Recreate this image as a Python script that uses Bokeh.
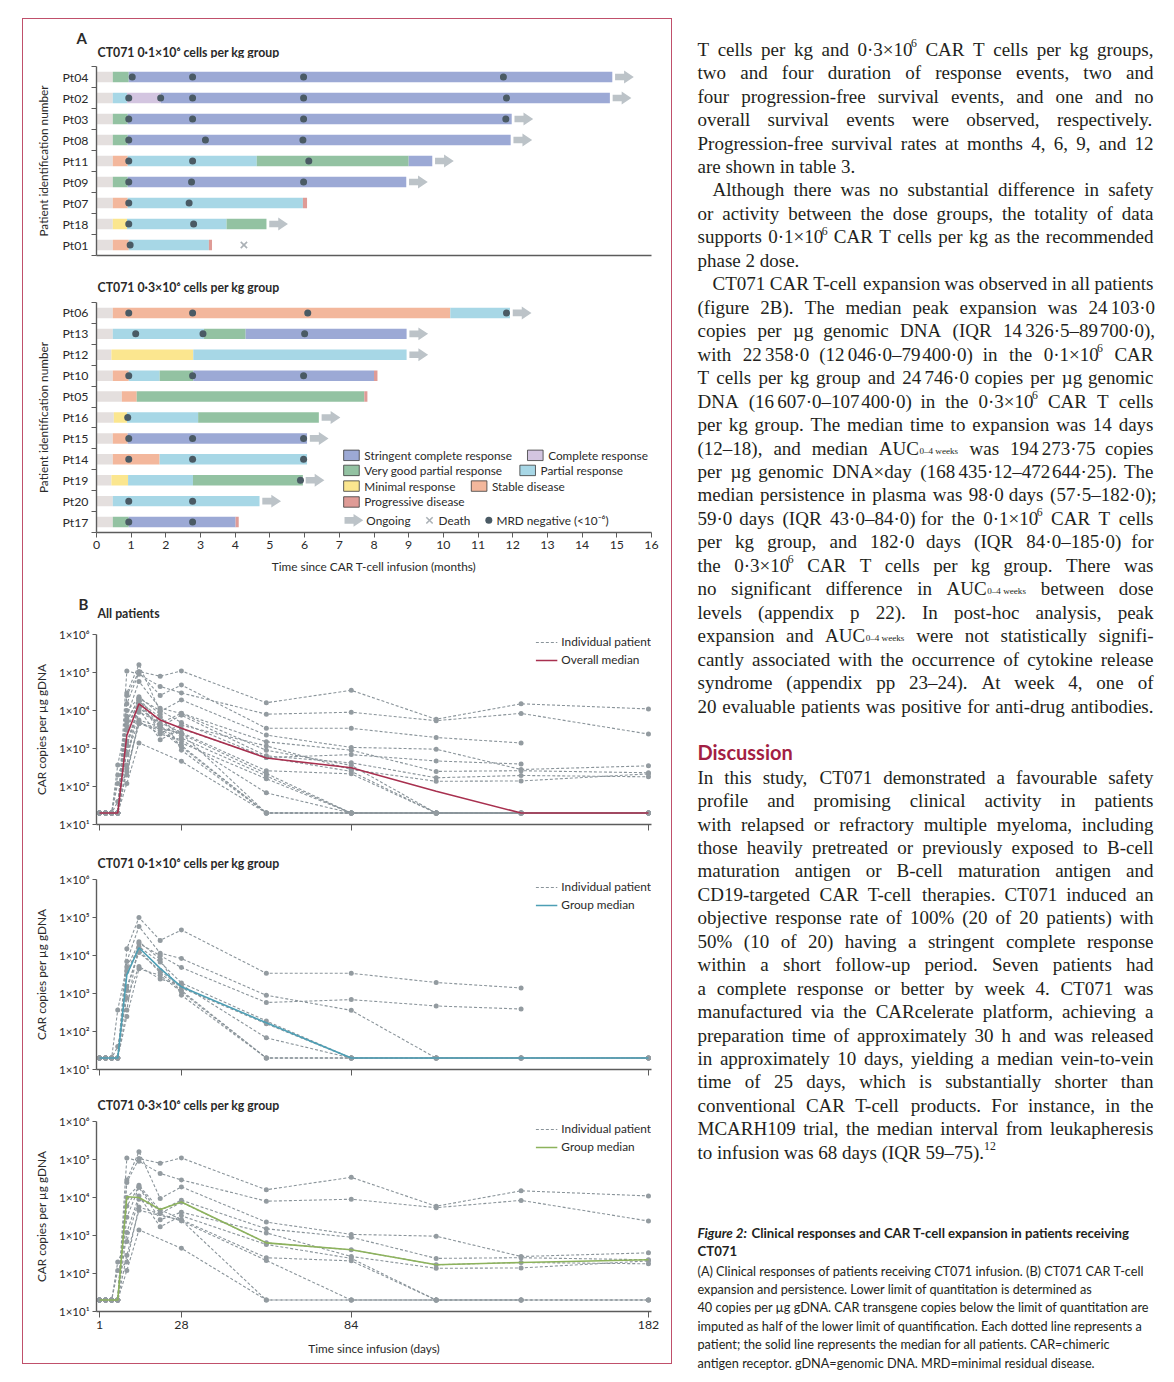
import re
from bokeh.plotting import figure
from bokeh.models import Range1d, FixedTicker, Label, Legend, LegendItem, Spacer
from bokeh.layouts import column, row
from bokeh.embed import file_html
from bokeh.resources import INLINE
from bokeh.core.properties import value

# ============================ DATA ============================
month_ticks = list(range(0, 17))

resp_codes = ["sCR", "CR", "VGPR", "PR", "MR", "SD", "PD"]
resp_labels = {"sCR": "Stringent complete response", "CR": "Complete response",
               "VGPR": "Very good partial response", "PR": "Partial response",
               "MR": "Minimal response", "SD": "Stable disease", "PD": "Progressive disease"}

# --- panel A, 0.1 x 10^6 group: (response, end month) segments ---
g1_patients = ["Pt04", "Pt02", "Pt03", "Pt08", "Pt11", "Pt09", "Pt07", "Pt18", "Pt01"]
g1_segments = [
    [("pre", 0.47), ("VGPR", 0.93), ("sCR", 14.87)],
    [("pre", 0.47), ("PR", 0.88), ("CR", 1.85), ("sCR", 14.80)],
    [("pre", 0.47), ("VGPR", 0.90), ("sCR", 11.97)],
    [("pre", 0.47), ("VGPR", 0.90), ("sCR", 11.94)],
    [("pre", 0.47), ("SD", 0.90), ("PR", 4.62), ("VGPR", 9.00), ("sCR", 9.68)],
    [("pre", 0.47), ("VGPR", 0.90), ("sCR", 8.93)],
    [("pre", 0.47), ("SD", 0.90), ("PR", 5.95), ("PD", 6.07)],
    [("pre", 0.47), ("MR", 0.88), ("PR", 3.75), ("VGPR", 4.90)],
    [("pre", 0.47), ("SD", 0.93), ("PR", 3.24), ("PD", 3.33)],
]
g1_ongoing = [True, True, True, True, True, True, False, True, False]
g1_mrd = [[1.03, 2.77, 5.97, 11.73], [0.93, 1.85, 2.77, 5.97, 11.82], [0.93, 2.77, 5.97, 11.80],
          [0.93, 3.14, 5.95], [0.93, 2.77, 6.12], [0.93, 2.74, 5.97], [0.93, 2.67],
          [0.93, 2.80], [0.97]]
g1_death = [None, None, None, None, None, None, None, None, 4.25]

# --- panel A, 0.3 x 10^6 group ---
g2_patients = ["Pt06", "Pt13", "Pt12", "Pt10", "Pt05", "Pt16", "Pt15", "Pt14", "Pt19", "Pt20", "Pt17"]
g2_segments = [
    [("pre", 0.47), ("SD", 10.20), ("PR", 11.92)],
    [("pre", 0.47), ("PR", 3.10), ("VGPR", 4.30), ("sCR", 8.94)],
    [("pre", 0.43), ("MR", 2.79), ("PR", 8.94)],
    [("pre", 0.47), ("SD", 0.93), ("PR", 1.82), ("VGPR", 2.79), ("sCR", 8.00), ("PD", 8.10)],
    [("pre", 0.73), ("SD", 1.16), ("VGPR", 7.72), ("PD", 7.81)],
    [("pre", 0.50), ("MR", 0.88), ("PR", 2.93), ("VGPR", 6.41)],
    [("pre", 0.47), ("SD", 0.90), ("sCR", 6.07)],
    [("pre", 0.47), ("SD", 1.82), ("PR", 6.07)],
    [("pre", 0.43), ("MR", 0.91), ("PR", 2.78), ("VGPR", 5.95)],
    [("pre", 0.47), ("PR", 4.70)],
    [("pre", 0.47), ("VGPR", 0.93), ("sCR", 4.01), ("PD", 4.10)],
]
g2_ongoing = [True, True, True, False, False, True, True, False, True, True, False]
g2_mrd = [[0.93, 2.77, 6.09, 11.82], [1.13, 3.07, 6.00], [], [0.93, 2.77, 5.97], [], [0.90],
          [0.93, 2.77, 5.97], [0.93, 2.77, 5.97], [5.88], [0.93, 2.77], [0.93, 2.77]]
g2_death = [None] * 11

# --- panel B: CAR copies per ug gDNA ---
pk_days = [1, 3, 5, 7, 10, 14, 21, 28, 56, 84, 112, 140, 182]
N = None
pk_g1 = [
    [20, 20, 20, 20, 1.5e4, 1.0e5, 2.5e4, 4.7e4, 3.4e3, 3.4e3, 1.95e3, 1.4e3, N],
    [20, 20, 20, 20, 7.0e3, 5.8e4, 1.15e4, 8.3e3, 9.0e2, 3.6e2, 20, 20, 20],
    [20, 20, 20, 3.7e2, 5.0e3, 2.1e4, 1.0e4, 4.8e3, 5.8e2, 6.9e2, 4.7e2, 3.9e2, N],
    [20, 20, 20, 20, 3.8e3, 1.7e4, 6.7e3, 1.9e3, 1.9e2, 20, 20, 20, 20],
    [20, 20, 20, 20, 1.5e3, 1.2e4, 4.0e3, 1.4e3, 1.6e2, 20, 20, 20, 20],
    [20, 20, 20, 40, 7.5e2, 5.1e3, 2.4e3, 1.7e3, 68, 20, 20, 20, 20],
    [20, 20, 20, 20, 2.5e2, 4.5e3, 3.0e3, 1.1e3, 20, 20, 20, 20, 20],
    [20, 20, 20, 20, 3.7e2, 2.3e4, 8.0e3, 9.0e2, 20, 20, 20, 20, N],
    [20, 20, 20, 20, 1.2e3, 1.4e4, 3.5e3, 1.2e3, 20, 20, N, N, N],
]
pk_g2 = [
    [20, 20, 20, 20, 2.5e4, 1.06e5, 8.0e4, 1.1e5, 1.6e4, 3.4e4, 5.9e3, 1.5e4, 1.1e4],
    [20, 20, 20, 20, 1.1e5, 9.0e4, 4.3e4, 2.9e4, 8.0e3, 9.0e3, 5.4e3, 8.4e3, 2.4e3],
    [20, 20, 20, 20, 2.9e4, 1.6e5, 9.4e3, 1.9e4, 2.25e3, 1.07e3, 9.6e2, 2.8e2, 3.5e2],
    [20, 20, 20, 20, 1.0e4, 2.1e4, 4.6e3, 8.5e3, 1.5e3, 9.0e2, 2.5e2, 2.6e2, 2.3e2],
    [20, 20, 20, 20, 6.0e3, 1.9e4, 3.8e3, 7.5e3, 6.4e2, 4.2e2, 1.7e2, 1.95e2, 1.8e2],
    [20, 20, 20, 20, 3.0e3, 1.85e4, 2.6e3, 4.1e3, 1.17e3, 2.8e2, 1.37e2, 1.4e2, 2.15e2],
    [20, 20, 20, 20, 1.2e3, 1.1e4, 1.7e3, 3.3e3, 5.8e2, 2.5e2, 20, 20, 20],
    [20, 20, 20, 2.0e2, 7.0e2, 9.0e3, N, 2.6e3, 2.6e2, 2.15e2, 20, N, N],
    [20, 20, 20, 1.2e2, 2.0e2, 5.6e3, N, 2.4e3, 2.2e2, 20, 20, 20, N],
    [20, 20, 20, 20, 1.2e2, 1.4e3, N, 4.6e2, 20, 20, 20, 20, 20],
    [20, 20, 20, 20, 3.0e2, 4.6e3, N, 2.5e3, 20, 20, 20, 20, 20],
]
median_all = [20, 20, 20, 20, 2.2e3, 1.5e4, 5.6e3, 3.4e3, 5.6e2, 3.1e2, 75, 20, 20]
median_g1 = [20, 20, 20, 20, 3.1e3, 1.6e4, 4.6e3, 1.5e3, 1.7e2, 20, 20, 20, 20]
median_g2 = [20, 20, 20, 20, 1.05e4, 1.0e4, 4.8e3, 7.6e3, 6.4e2, 4.2e2, 1.7e2, 1.95e2, 2.3e2]

day_ticks = [1, 28, 84, 182]
log_ticks = [10, 100, 1000, 10000, 100000, 1000000]
log_tick_labels = ["1×10¹", "1×10²", "1×10³", "1×10⁴", "1×10⁵", "1×10⁶"]

# ============================ STYLE ============================
FONT = "Lato"
TXT = "#2a2a2a"
AXC = "#5c5c5c"
FIG_W = 648
TITLE_FS = "12.3px"
LEG_FS = "11.8px"
RESP_COLORS = {"pre": "#e4dfde", "sCR": "#9ca9d5", "CR": "#d3c5e0", "VGPR": "#93c2a2",
               "PR": "#a7d7e6", "MR": "#fbe68f", "SD": "#f3b79c", "PD": "#df9b96"}
ARROW_C = "#bcc3c8"
MRD_C = "#4a5a64"
DEATH_C = "#abb1b6"
IND_C = "#8a949a"
PT_C = "#939ba0"


def no_align(f):
    if "frame_align" in f.properties():
        f.frame_align = False


def overrides(keys, labels):
    d = {}
    for k, l in zip(keys, labels):
        d[k] = l
        d[str(k)] = l
    return d


def base_style(p):
    p.grid.visible = False
    p.outline_line_color = None
    for ax in p.axis:
        ax.axis_line_color = AXC
        ax.axis_line_width = 1.4
        ax.major_tick_line_color = AXC
        ax.minor_tick_line_color = None
        ax.major_label_text_font = FONT
        ax.major_label_text_color = TXT
        ax.axis_label_text_font = FONT
        ax.axis_label_text_font_style = "normal"
        ax.axis_label_text_color = TXT
        ax.axis_label_text_font_size = "11.8px"


def header(h, items):
    """A thin strip holding the panel letter and panel title (canvas pixel coords)."""
    f = figure(width=FIG_W, height=h, x_range=Range1d(0, FIG_W), y_range=Range1d(h, 0),
               output_backend="svg", toolbar_location=None, min_border=0,
               min_border_left=0, min_border_right=0, min_border_top=0, min_border_bottom=0,
               x_axis_type=None, y_axis_type=None)
    no_align(f)
    f.grid.visible = False
    f.outline_line_color = None
    for x, y, t, s in items:
        f.text([x], [y], [t], text_font=value(FONT), text_font_style="bold",
               text_font_size=value(s), text_baseline="middle", text_align="left",
               text_color=TXT)
    return f


def add_label(p, x, y, text, size=LEG_FS, bold=False, color=TXT):
    p.add_layout(Label(x=x, y=y, text=text, text_font=FONT, text_font_size=size,
                       text_font_style="bold" if bold else "normal", text_color=color,
                       text_baseline="middle", text_align="left"))


def arrow_poly(e, y):
    x0, x1, x2 = e + 0.08, e + 0.34, e + 0.62
    return ([x0, x1, x1, x2, x1, x1, x0],
            [y - 0.16, y - 0.16, y - 0.31, y, y + 0.31, y + 0.16, y + 0.16])


def swimmer(patients, segments, ongoing, mrd, death, height, top, bottom, x_labels,
            with_legend):
    n = len(patients)
    p = figure(width=FIG_W, height=height, x_range=Range1d(0, 16),
               y_range=Range1d(n - 0.5, -0.5), output_backend="svg", toolbar_location=None,
               min_border_left=73, min_border_right=20, min_border_top=top,
               min_border_bottom=bottom)
    left, right, ys, cols = [], [], [], []
    for i, segs in enumerate(segments):
        start = 0.0
        for code, end in segs:
            left.append(start)
            right.append(end)
            ys.append(i)
            cols.append(RESP_COLORS[code])
            start = end
    p.hbar(y=ys, left=left, right=right, height=0.5, fill_color=cols, line_color=None)

    axs, ays = [], []
    for i, segs in enumerate(segments):
        if ongoing[i]:
            ax_, ay_ = arrow_poly(segs[-1][1], i)
            axs.append(ax_)
            ays.append(ay_)
    p.patches(axs, ays, fill_color=ARROW_C, line_color=None)

    mx = [x for i, row_ in enumerate(mrd) for x in row_]
    my = [i for i, row_ in enumerate(mrd) for _ in row_]
    p.scatter(mx, my, size=7, fill_color=MRD_C, line_color=None)

    dx = [d for d in death if d is not None]
    dy = [i for i, d in enumerate(death) if d is not None]
    if dx:
        p.scatter(dx, dy, marker="x", size=9, line_color=DEATH_C, line_width=1.6)

    base_style(p)
    yax = p.yaxis[0]
    yax.ticker = FixedTicker(ticks=list(range(n)), minor_ticks=[i - 0.5 for i in range(n + 1)])
    yax.major_label_overrides = overrides(list(range(n)), patients)
    yax.major_tick_out = 0
    yax.major_tick_in = 0
    yax.minor_tick_line_color = AXC
    yax.minor_tick_out = 5
    yax.minor_tick_in = 0
    yax.major_label_text_font_size = "12.3px"
    yax.major_label_standoff = 3
    yax.axis_label = "Patient identification number"
    yax.axis_label_standoff = 8

    xax = p.xaxis[0]
    if x_labels:
        xax.ticker = FixedTicker(ticks=month_ticks)
        xax.major_tick_out = 5
        xax.major_tick_in = 0
        xax.major_label_text_font_size = "12.3px"
        xax.major_label_standoff = 3
        xax.axis_label = "Time since CAR T-cell infusion (months)"
        xax.axis_label_standoff = 7
    else:
        xax.ticker = FixedTicker(ticks=[])
        xax.major_label_text_font_size = "0px"
        xax.major_tick_out = 0

    if with_legend:
        pos = {"sCR": (7.12, 6.81), "CR": (12.42, 6.81), "VGPR": (7.12, 7.53),
               "PR": (12.20, 7.53), "MR": (7.12, 8.28), "SD": (10.80, 8.28),
               "PD": (7.12, 9.04)}
        bx = [pos[c][0] + 0.23 for c in resp_codes]
        by = [pos[c][1] for c in resp_codes]
        p.rect(bx, by, width=0.45, height=0.5, fill_color=[RESP_COLORS[c] for c in resp_codes],
               line_color="#3a3a3a", line_width=0.8)
        for c in resp_codes:
            add_label(p, pos[c][0] + 0.6, pos[c][1], resp_labels[c])
        ly = 9.92
        lx, lyy = arrow_poly(7.07, ly)
        p.patch(lx, lyy, fill_color=ARROW_C, line_color=None)
        add_label(p, 7.78, ly, "Ongoing")
        p.scatter([9.6], [ly], marker="x", size=9, line_color=DEATH_C, line_width=1.6)
        add_label(p, 9.86, ly, "Death")
        p.scatter([11.31], [ly], size=7, fill_color=MRD_C, line_color=None)
        add_label(p, 11.53, ly, "MRD negative (<10⁻⁶)")
    return p


def pk_plot(height, top, bottom, series, med, med_color, med_label, x_labels):
    p = figure(width=FIG_W, height=height, x_range=Range1d(0, 183),
               y_range=Range1d(10, 1e6), y_axis_type="log", output_backend="svg",
               toolbar_location=None, min_border_left=73, min_border_right=20,
               min_border_top=top, min_border_bottom=bottom)
    first = None
    for vals in series:
        xs = [d for d, v in zip(pk_days, vals) if v is not None]
        ys = [v for v in vals if v is not None]
        r = p.line(xs, ys, line_color=IND_C, line_dash="3 2", line_width=1.1)
        if first is None:
            first = r
    for vals in series:
        xs = [d for d, v in zip(pk_days, vals) if v is not None]
        ys = [v for v in vals if v is not None]
        p.scatter(xs, ys, size=5, fill_color=PT_C, line_color=None)
    rm = p.line(pk_days, med, line_color=med_color, line_width=1.6)

    leg = Legend(items=[LegendItem(label="Individual patient", renderers=[first]),
                        LegendItem(label=med_label, renderers=[rm])],
                 location="top_right", border_line_color=None, background_fill_alpha=0,
                 label_text_font=FONT, label_text_font_size=LEG_FS, label_text_color=TXT,
                 glyph_width=22, glyph_height=12, label_height=12, spacing=3, padding=0,
                 margin=0, label_standoff=4)
    p.add_layout(leg)

    base_style(p)
    yax = p.yaxis[0]
    yax.ticker = FixedTicker(ticks=log_ticks)
    yax.major_label_overrides = overrides(log_ticks, log_tick_labels)
    yax.major_tick_out = 4
    yax.major_tick_in = 0
    yax.major_label_text_font_size = "11.5px"
    yax.major_label_standoff = 3
    yax.axis_label = "CAR copies per µg gDNA"
    yax.axis_label_standoff = 7

    xax = p.xaxis[0]
    xax.ticker = FixedTicker(ticks=day_ticks)
    xax.major_tick_out = 6
    xax.major_tick_in = 0
    if x_labels:
        xax.major_label_text_font_size = "12.3px"
        xax.major_label_standoff = 3
        xax.axis_label = "Time since infusion (days)"
        xax.axis_label_standoff = 9
    else:
        xax.major_label_text_font_size = "0px"
        xax.major_label_standoff = 0
    return p


HA1 = header(39, [(53, 18, "A", "15px"), (74, 33, "CT071 0·1×10⁶ cells per kg group", TITLE_FS)])
A1 = swimmer(g1_patients, g1_segments, g1_ongoing, g1_mrd, g1_death, 206, 8, 9, False, False)
HA2 = header(30, [(74, 23, "CT071 0·3×10⁶ cells per kg group", TITLE_FS)])
A2 = swimmer(g2_patients, g2_segments, g2_ongoing, g2_mrd, g2_death, 296, 8, 58, True, True)
HB1 = header(36, [(55, 13, "B", "15px"), (74, 23, "All patients", TITLE_FS)])
B1 = pk_plot(212, 8, 14, pk_g1 + pk_g2, median_all, "#a8304f", "Overall median", False)
HB2 = header(33, [(74, 25, "CT071 0·1×10⁶ cells per kg group", TITLE_FS)])
B2 = pk_plot(210, 8, 12, pk_g1, median_g1, "#4d9fb5", "Group median", False)
HB3 = header(32, [(74, 24, "CT071 0·3×10⁶ cells per kg group", TITLE_FS)])
B3 = pk_plot(250, 8, 52, pk_g2, median_g2, "#8db35c", "Group median", True)

# ============================ ARTICLE TEXT ============================
body_lines = [
    ("T cells per kg and 0·3×10^{6} CAR T cells per kg groups,", True, 0),
    ("two and four duration of response events, two and", True, 0),
    ("four progression-free survival events, and one and no", True, 0),
    ("overall survival events were observed, respectively.", True, 0),
    ("Progression-free survival rates at months 4, 6, 9, and 12", True, 0),
    ("are shown in table 3.", False, 0),
    ("Although there was no substantial difference in safety", True, 15),
    ("or activity between the dose groups, the totality of data", True, 0),
    ("supports 0·1×10^{6} CAR T cells per kg as the recommended", True, 0),
    ("phase 2 dose.", False, 0),
    ("CT071 CAR T-cell expansion was observed in all patients", True, 15),
    ("(figure 2B). The median peak expansion was 24\u2009103·0", True, 0),
    ("copies per µg genomic DNA (IQR 14\u2009326·5–89\u2009700·0),", True, 0),
    ("with 22\u2009358·0 (12\u2009046·0–79\u2009400·0) in the 0·1×10^{6} CAR", True, 0),
    ("T cells per kg group and 24\u2009746·0 copies per µg genomic", True, 0),
    ("DNA (16\u2009607·0–107\u2009400·0) in the 0·3×10^{6} CAR T cells", True, 0),
    ("per kg group. The median time to expansion was 14 days", True, 0),
    ("(12–18), and median AUC_{0–4~weeks} was 194\u2009273·75 copies", True, 0),
    ("per µg genomic DNA×day (168\u2009435·12–472\u2009644·25). The", True, 0),
    ("median persistence in plasma was 98·0 days (57·5–182·0);", True, 0),
    ("59·0 days (IQR 43·0–84·0) for the 0·1×10^{6} CAR T cells", True, 0),
    ("per kg group, and 182·0 days (IQR 84·0–185·0) for", True, 0),
    ("the 0·3×10^{6} CAR T cells per kg group. There was", True, 0),
    ("no significant difference in AUC_{0–4~weeks} between dose", True, 0),
    ("levels (appendix p 22). In post-hoc analysis, peak", True, 0),
    ("expansion and AUC_{0–4~weeks} were not statistically signifi-", True, 0),
    ("cantly associated with the occurrence of cytokine release", True, 0),
    ("syndrome (appendix pp 23–24). At week 4, one of", True, 0),
    ("20 evaluable patients was positive for anti-drug antibodies.", True, 0),
]
disc_lines = [
    ("In this study, CT071 demonstrated a favourable safety", True, 0),
    ("profile and promising clinical activity in patients", True, 0),
    ("with relapsed or refractory multiple myeloma, including", True, 0),
    ("those heavily pretreated or previously exposed to B-cell", True, 0),
    ("maturation antigen or B-cell maturation antigen and", True, 0),
    ("CD19-targeted CAR T-cell therapies. CT071 induced an", True, 0),
    ("objective response rate of 100% (20 of 20 patients) with", True, 0),
    ("50% (10 of 20) having a stringent complete response", True, 0),
    ("within a short follow-up period. Seven patients had", True, 0),
    ("a complete response or better by week 4. CT071 was", True, 0),
    ("manufactured via the CARcelerate platform, achieving a", True, 0),
    ("preparation time of approximately 30 h and was released", True, 0),
    ("in approximately 10 days, yielding a median vein-to-vein", True, 0),
    ("time of 25 days, which is substantially shorter than", True, 0),
    ("conventional CAR T-cell products. For instance, in the", True, 0),
    ("MCARH109 trial, the median interval from leukapheresis", True, 0),
    ("to infusion was 68 days (IQR 59–75).^{12}", False, 0),
]
caption_lines = [
    "(A) Clinical responses of patients receiving CT071 infusion. (B) CT071 CAR T-cell",
    "expansion and persistence. Lower limit of quantitation is determined as",
    "40 copies per µg gDNA. CAR transgene copies below the limit of quantitation are",
    "imputed as half of the lower limit of quantification. Each dotted line represents a",
    "patient; the solid line represents the median for all patients. CAR=chimeric",
    "antigen receptor. gDNA=genomic DNA. MRD=minimal residual disease.",
]

# Times / Liberation Serif advance widths (per 1000 em)
AFM = {' ': 250, '!': 333, '%': 833, '(': 333, ')': 333, ',': 250, '-': 333, '.': 250,
       '/': 278, ':': 278, ';': 278, '<': 564, '=': 564, '>': 564, '?': 444,
       'A': 722, 'B': 667, 'C': 667, 'D': 722, 'E': 611, 'F': 556, 'G': 722, 'H': 722,
       'I': 333, 'J': 389, 'K': 722, 'L': 611, 'M': 889, 'N': 722, 'O': 722, 'P': 556,
       'Q': 722, 'R': 667, 'S': 556, 'T': 611, 'U': 722, 'V': 722, 'W': 944, 'X': 722,
       'Y': 722, 'Z': 611, 'a': 444, 'b': 500, 'c': 444, 'd': 500, 'e': 444, 'f': 333,
       'g': 500, 'h': 500, 'i': 278, 'j': 278, 'k': 500, 'l': 278, 'm': 778, 'n': 500,
       'o': 500, 'p': 500, 'q': 500, 'r': 333, 's': 389, 't': 278, 'u': 500, 'v': 500,
       'w': 722, 'x': 500, 'y': 500, 'z': 444, '×': 564, '·': 250, 'µ': 500, '–': 500}
for dgt in "0123456789":
    AFM[dgt] = 500

SUB_F, SUP_F = 0.48, 0.62


def tw(s, size):
    return sum(AFM.get(c, 500) for c in s) * size / 1000.0


def parse_token(tok):
    segs = []
    for part in re.split(r'(_\{[^}]*\}|\^\{[^}]*\})', tok):
        if not part:
            continue
        if part.startswith('_{'):
            segs.append((part[2:-1].replace('~', ' '), 'sub'))
        elif part.startswith('^{'):
            segs.append((part[2:-1], 'sup'))
        else:
            for k, pc in enumerate(part.split('\u2009')):
                if k > 0:
                    segs.append(('', 'thin'))
                if pc:
                    segs.append((pc, 'n'))
    return segs


def seg_w(seg, S):
    t, k = seg
    if k == 'n':
        return tw(t, S)
    if k == 'sub':
        return tw(t, S * SUB_F) + 0.05 * S
    if k == 'sup':
        return tw(t, S * SUP_F)
    return 0.17 * S


X0, WTXT = 697.0, 456.0
S = 19.0
for txt, just, ind in body_lines + disc_lines:
    if not just:
        continue
    toks = [parse_token(t) for t in txt.split(' ')]
    em = sum(seg_w(sg, 1.0) for t in toks for sg in t)
    S = min(S, (WTXT - ind) / (em + (len(toks) - 1) * 0.2))

runs = {'n': dict(x=[], y=[], text=[]), 'sub': dict(x=[], y=[], text=[]),
        'sup': dict(x=[], y=[], text=[])}


def set_line(txt, just, ind, base_y):
    toks = [parse_token(t) for t in txt.split(' ')]
    widths = [sum(seg_w(sg, S) for sg in t) for t in toks]
    if just and len(toks) > 1:
        gap = (WTXT - ind - sum(widths)) / (len(toks) - 1)
    else:
        gap = 0.25 * S
    x = X0 + ind
    for t, w in zip(toks, widths):
        xx = x
        for text, kind in t:
            if kind == 'n':
                runs['n']['x'].append(xx); runs['n']['y'].append(base_y)
                runs['n']['text'].append(text)
            elif kind == 'sub':
                runs['sub']['x'].append(xx + 0.03 * S); runs['sub']['y'].append(base_y + 0.14 * S)
                runs['sub']['text'].append(text)
            elif kind == 'sup':
                runs['sup']['x'].append(xx); runs['sup']['y'].append(base_y - 0.33 * S)
                runs['sup']['text'].append(text)
            xx += seg_w((text, kind), S)
        x += w + gap


for i, (txt, just, ind) in enumerate(body_lines):
    set_line(txt, just, ind, 48.7 + 23.46 * i)
for i, (txt, just, ind) in enumerate(disc_lines):
    set_line(txt, just, ind, 776.7 + 23.44 * i)

T = figure(width=494, height=1374, x_range=Range1d(672, 1166), y_range=Range1d(1374, 0),
           output_backend="svg", toolbar_location=None, min_border=0,
           x_axis_type=None, y_axis_type=None)
no_align(T)
T.grid.visible = False
T.outline_line_color = None
BODY_C = "#231f20"
for kind, fs in (('n', S), ('sub', S * SUB_F), ('sup', S * SUP_F)):
    T.text(x=runs[kind]['x'], y=runs[kind]['y'], text=runs[kind]['text'],
           text_font=value("Liberation Serif"), text_font_size=value(f"{fs:.2f}px"),
           text_color=BODY_C, text_baseline="alphabetic", text_align="left")

T.text(x=[697], y=[751.7], text=["Discussion"], text_font=value(FONT),
       text_font_style="bold", text_font_size=value("20px"), text_color="#a31f44",
       text_baseline="alphabetic")
T.text(x=[697], y=[1232.7], text=["Figure 2:"], text_font=value(FONT),
       text_font_style="bold italic", text_font_size=value("13.4px"), text_color=BODY_C,
       text_baseline="alphabetic")
T.text(x=[751, 697], y=[1232.7, 1250.7],
       text=["Clinical responses and CAR T-cell expansion in patients receiving", "CT071"],
       text_font=value(FONT), text_font_style="bold", text_font_size=value("13.2px"),
       text_color=BODY_C, text_baseline="alphabetic")
T.text(x=[697] * len(caption_lines), y=[1270.0 + 18.4 * i for i in range(len(caption_lines))],
       text=caption_lines, text_font=value(FONT), text_font_size=value("12.7px"),
       text_color=BODY_C, text_baseline="alphabetic")

# ============================ LAYOUT ============================
bordered = column(HA1, A1, HA2, A2, HB1, B1, HB2, B2, HB3, B3,
                  styles={"border": "1px solid #c0506b"})
left = column(Spacer(height=18), bordered)
layout = row(Spacer(width=22), left, T)

open("out.html", "w").write(file_html(layout, INLINE))
